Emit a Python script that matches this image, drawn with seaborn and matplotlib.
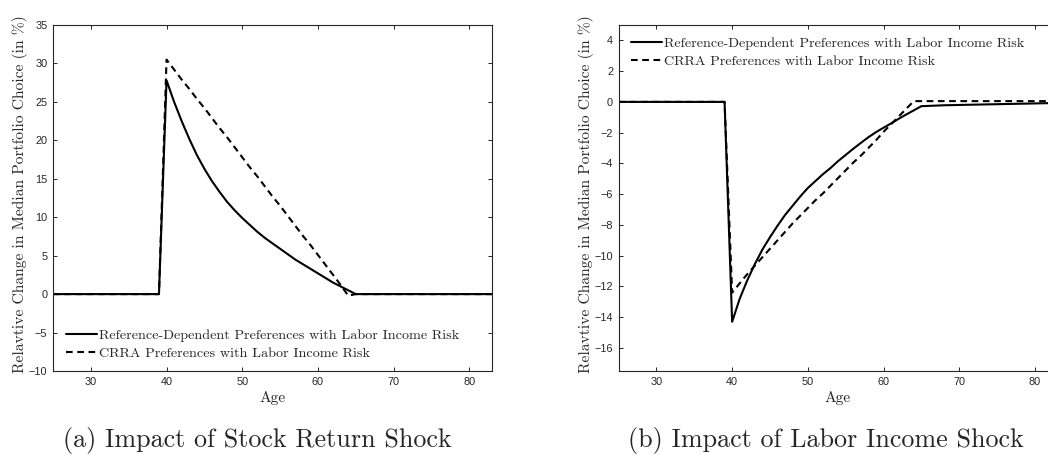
import pandas as pd
import seaborn as sns
import matplotlib.pyplot as plt

ages = list(range(25, 84))

rd_stock = [0.0, 0.0, 0.0, 0.0, 0.0, 0.0, 0.0, 0.0, 0.0, 0.0, 0.0, 0.0, 0.0, 0.0, 0.0,
            27.8, 25.0, 22.5, 20.2, 18.1, 16.3, 14.7, 13.3, 12.0, 10.9,
            9.9, 9.0, 8.1, 7.3, 6.6, 5.9, 5.2, 4.5, 3.9, 3.3,
            2.7, 2.1, 1.5, 1.0, 0.5, 0.0,
            0.0, 0.0, 0.0, 0.0, 0.0, 0.0, 0.0, 0.0, 0.0, 0.0, 0.0, 0.0, 0.0, 0.0, 0.0, 0.0, 0.0, 0.0]
crra_stock = [0.0, 0.0, 0.0, 0.0, 0.0, 0.0, 0.0, 0.0, 0.0, 0.0, 0.0, 0.0, 0.0, 0.0, 0.0,
              30.5, 29.2, 27.9, 26.7, 25.4, 24.2, 22.9, 21.6, 20.4, 19.1,
              17.8, 16.5, 15.3, 14.0, 12.7, 11.5, 10.2, 8.9, 7.6, 6.4,
              5.1, 3.8, 2.5, 1.2, -0.2, 0.0,
              0.0, 0.0, 0.0, 0.0, 0.0, 0.0, 0.0, 0.0, 0.0, 0.0, 0.0, 0.0, 0.0, 0.0, 0.0, 0.0, 0.0, 0.0]
rd_labor = [0.0, 0.0, 0.0, 0.0, 0.0, 0.0, 0.0, 0.0, 0.0, 0.0, 0.0, 0.0, 0.0, 0.0, 0.0,
            -14.3, -12.8, -11.6, -10.55, -9.6, -8.8, -8.05, -7.35, -6.75, -6.15,
            -5.6, -5.15, -4.7, -4.3, -3.85, -3.45, -3.05, -2.67, -2.3, -1.97,
            -1.68, -1.4, -1.1, -0.82, -0.55, -0.28,
            -0.26, -0.24, -0.22, -0.21, -0.2, -0.19, -0.18, -0.17, -0.16, -0.15,
            -0.14, -0.13, -0.12, -0.11, -0.1, -0.09, -0.08, -0.07]
crra_labor = [0.0, 0.0, 0.0, 0.0, 0.0, 0.0, 0.0, 0.0, 0.0, 0.0, 0.0, 0.0, 0.0, 0.0, 0.0,
              -12.4, -11.8, -11.2, -10.65, -10.1, -9.55, -9.0, -8.45, -7.9, -7.4,
              -6.9, -6.4, -5.95, -5.45, -4.95, -4.45, -3.95, -3.5, -3.0, -2.5,
              -1.95, -1.45, -0.95, -0.45, 0.05, 0.05,
              0.05, 0.05, 0.05, 0.05, 0.05, 0.05, 0.05, 0.05, 0.05, 0.05,
              0.05, 0.05, 0.05, 0.05, 0.05, 0.05, 0.05, 0.05]

rd_name = 'Reference-Dependent Preferences with Labor Income Risk'
crra_name = 'CRRA Preferences with Labor Income Risk'

stock = pd.DataFrame({'age': ages * 2, 'change': rd_stock + crra_stock,
                      'model': [rd_name] * len(ages) + [crra_name] * len(ages)})
labor = pd.DataFrame({'age': ages * 2, 'change': rd_labor + crra_labor,
                      'model': [rd_name] * len(ages) + [crra_name] * len(ages)})

sns.set_style('ticks')
plt.rcParams['font.family'] = ['Liberation Sans', 'DejaVu Sans']
grey = '#262626'
serif = 'cmr10'

fig = plt.figure(figsize=(10.48, 4.55), dpi=100)
ax1 = fig.add_axes([53 / 1048, 84 / 455, 439 / 1048, 346 / 455])
ax2 = fig.add_axes([618.6 / 1048, 84 / 455, 439 / 1048, 346 / 455])

panels = [
    (ax1, stock, (-10, 35), range(-10, 36, 5), (0.03, 0.032), 'lower left'),
    (ax2, labor, (-17.5, 5), range(-16, 5, 2), (0.028, 0.965), 'upper left'),
]
for ax, data, ylim, yticks, anchor, loc in panels:
    sns.lineplot(data, x='age', y='change', hue='model', style='model', ax=ax,
                 palette={rd_name: 'black', crra_name: 'black'},
                 dashes={rd_name: '', crra_name: (3.2, 2.2)}, linewidth=1.5)
    ax.set_xlim(25, 83)
    ax.set_ylim(*ylim)
    ax.set_xticks(range(30, 81, 10))
    ax.set_yticks(list(yticks))
    ax.tick_params(direction='in', length=3, width=0.7, top=True, right=True,
                   labelsize=7.8, colors=grey, pad=4)
    for sp in ax.spines.values():
        sp.set_visible(True)
        sp.set_color(grey)
        sp.set_linewidth(0.8)
    ax.set_xlabel('Age', fontfamily=serif, fontsize=11.2, color=grey)
    ax.set_ylabel('Relavtive Change in Median Portfolio Choice (in %)',
                  fontfamily=serif, fontsize=11.2, color=grey)
    ax.xaxis.set_label_coords(0.5, -0.058)
    ax.yaxis.set_label_coords(-0.056, 0.51)
    handles, labels = ax.get_legend_handles_labels()
    ax.legend(handles, labels, loc=loc, bbox_to_anchor=anchor, frameon=False,
              prop={'family': serif, 'size': 10.2}, handlelength=2.2,
              handletextpad=0.15, labelspacing=0.35, borderpad=0, borderaxespad=0)

fig.text(257 / 1048, 8 / 455, '(a) Impact of Stock Return Shock', ha='center',
         va='baseline', fontfamily=serif, fontsize=18.8)
fig.text(826 / 1048, 8 / 455, '(b) Impact of Labor Income Shock', ha='center',
         va='baseline', fontfamily=serif, fontsize=18.8)

fig.savefig('out.png', dpi=100)
